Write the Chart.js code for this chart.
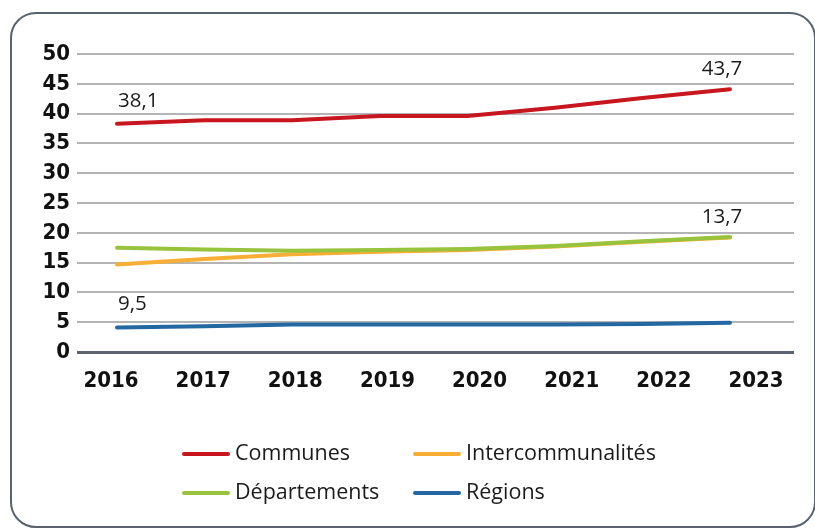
<!DOCTYPE html>
<html>
<head>
<meta charset="utf-8">
<script src="https://cdn.jsdelivr.net/npm/chart.js@4.4.1/dist/chart.umd.min.js"></script>
<style>
    html, body { margin: 0; padding: 0; background: #fff; }
    #wrap { position: relative; width: 815px; height: 529px; overflow: hidden; }
    #frame {
        position: absolute; left: 10px; top: 12px; width: 806px; height: 516px;
        border: 2px solid #596370; border-radius: 26px; box-sizing: border-box;
    }
    #chart { position: absolute; left: 0; top: 0; }
</style>
</head>
<body>
<div id="wrap">
    <div id="frame"></div>
    <canvas id="chart" width="815" height="529"></canvas>
</div>
<script>
const years = [2016, 2017, 2018, 2019, 2020, 2021, 2022, 2023];
const communes = [38.3, 38.9, 38.9, 39.6, 39.6, 41.0, 42.6, 44.1];
const intercommunalites = [14.7, 15.6, 16.4, 16.8, 17.1, 17.7, 18.5, 19.2];
const departements = [17.5, 17.2, 17.0, 17.1, 17.3, 17.8, 18.6, 19.3];
const regions = [4.1, 4.3, 4.6, 4.6, 4.6, 4.6, 4.7, 4.9];
const yTicks = [0, 5, 10, 15, 20, 25, 30, 35, 40, 45, 50];

// value labels shown on the original chart: [dataset index, point index, text]
const valueLabels = [
    [0, 0, '38,1'],
    [0, 7, '43,7'],
    [1, 7, '13,7'],
    [3, 0, '9,5']
];

const COLORS = {
    communes: '#c7161e',
    inter: '#f6ae35',
    dep: '#98c33d',
    reg: '#2468a2'
};

const AXIS_FONT = { family: '"DejaVu Sans Condensed", "DejaVu Sans", sans-serif', size: 22, weight: 'bold' };

const toPoints = vals => vals.map((v, i) => ({ x: years[i], y: v }));

function lineSet(label, vals, color, order) {
    return {
        label: label,
        data: toPoints(vals),
        borderColor: color,
        backgroundColor: color,
        borderWidth: 4,
        borderCapStyle: 'round',
        borderJoinStyle: 'round',
        pointRadius: 0,
        tension: 0,
        order: order,
        xAxisID: 'x',
        yAxisID: 'y'
    };
}

const labelPlugin = {
    id: 'valueLabels',
    afterDatasetsDraw(chart) {
        const ctx = chart.ctx;
        ctx.save();
        ctx.font = '20.5px "Open Sans", sans-serif';
        ctx.fillStyle = '#1b1b1b';
        ctx.textBaseline = 'middle';
        valueLabels.forEach(([ds, idx, text]) => {
            const pt = chart.getDatasetMeta(ds).data[idx];
            if (idx === 0) {
                ctx.textAlign = 'left';
                ctx.fillText(text, pt.x + 1, pt.y - 23);
            } else {
                ctx.textAlign = 'center';
                ctx.fillText(text, pt.x - 8, pt.y - 20);
            }
        });
        ctx.restore();
    }
};

const legendItems = [
    ['Communes', COLORS.communes, 184, 454],
    ['Intercommunalités', COLORS.inter, 415, 454],
    ['Départements', COLORS.dep, 184, 493],
    ['Régions', COLORS.reg, 415, 493]
];

const legendPlugin = {
    id: 'customLegend',
    afterDraw(chart) {
        const ctx = chart.ctx;
        ctx.save();
        ctx.font = '21.5px "Open Sans", sans-serif';
        ctx.fillStyle = '#1b1b1b';
        ctx.textBaseline = 'middle';
        ctx.textAlign = 'left';
        legendItems.forEach(([text, color, x, y]) => {
            ctx.strokeStyle = color;
            ctx.lineWidth = 4;
            ctx.lineCap = 'round';
            ctx.beginPath();
            ctx.moveTo(x, y);
            ctx.lineTo(x + 44, y);
            ctx.stroke();
            ctx.fillText(text, x + 51, y);
        });
        ctx.restore();
    }
};

new Chart(document.getElementById('chart'), {
    type: 'line',
    data: {
        datasets: [
            lineSet('Communes', communes, COLORS.communes, 1),
            lineSet('Départements', departements, COLORS.dep, 2),
            lineSet('Intercommunalités', intercommunalites, COLORS.inter, 3),
            lineSet('Régions', regions, COLORS.reg, 4)
        ]
    },
    options: {
        responsive: false,
        animation: false,
        devicePixelRatio: 1,
        layout: { padding: { top: 54, right: 21, bottom: 127, left: 0 } },
        plugins: {
            legend: { display: false },
            tooltip: { enabled: false }
        },
        scales: {
            x: {
                type: 'linear',
                display: false,
                min: 2015.543,
                max: 2023.731
            },
            x2: {
                type: 'linear',
                position: 'bottom',
                min: 2015.631,
                max: 2023.412,
                afterBuildTicks: s => { s.ticks = years.map(v => ({ value: v })); },
                afterFit: s => { s.height = 50; },
                grid: { display: false, drawTicks: false },
                border: { display: false },
                ticks: {
                    padding: 16,
                    color: '#111',
                    font: AXIS_FONT,
                    callback: v => String(v)
                }
            },
            y: {
                min: 0,
                max: 50,
                afterBuildTicks: s => { s.ticks = yTicks.map(v => ({ value: v })); },
                afterFit: s => { s.width = 77; },
                border: { display: false },
                grid: {
                    drawTicks: false,
                    color: c => c.tick.value === 0 ? '#5b6473' : '#b4b4b4',
                    lineWidth: c => c.tick.value === 0 ? 3 : 2
                },
                ticks: {
                    padding: 7,
                    color: '#111',
                    font: AXIS_FONT
                }
            }
        }
    },
    plugins: [labelPlugin, legendPlugin]
});
</script>
</body>
</html>
